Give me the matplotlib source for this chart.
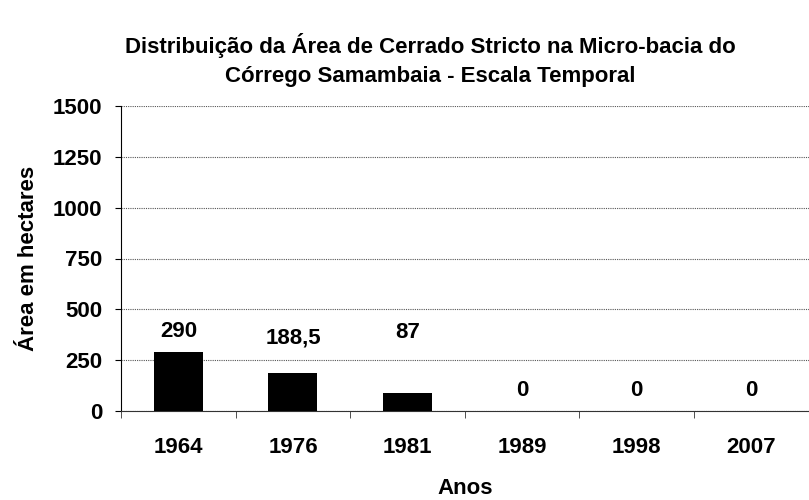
import matplotlib.pyplot as plt
import numpy as np

plt.rcParams['font.family'] = ['Liberation Sans', 'DejaVu Sans']
plt.rcParams['font.weight'] = 'bold'

anos = ['1964', '1976', '1981', '1989', '1998', '2007']
area = [290, 188.5, 87, 0, 0, 0]
rotulos = ['290', '188,5', '87', '0', '0', '0']
# vertical placement of the value labels (data units)
rotulo_y = [393, 359, 388, 103, 103, 103]

FS = 16

fig = plt.figure(figsize=(8.09, 5.0), dpi=100)
ax = fig.add_axes([0.1496, 0.178, 0.850, 0.610])

x = np.arange(len(anos))
ax.bar(x, area, width=0.427, color='black', linewidth=0, zorder=3)

for xi, yi, txt in zip(x, rotulo_y, rotulos):
    ax.text(xi, yi, txt, ha='center', va='center', fontsize=FS, fontweight='bold')

ax.set_xlim(-0.5, len(anos) - 0.5)
ax.set_ylim(0, 1500)
ax.set_yticks(np.arange(0, 1501, 250))
ax.set_yticklabels([str(v) for v in range(0, 1501, 250)], fontsize=FS, fontweight='bold')
ax.set_xticks(x)
ax.set_xticklabels(anos, fontsize=FS, fontweight='bold')
ax.tick_params(axis='x', length=0, pad=19)
ax.set_xticks(np.arange(-0.5, len(anos)), minor=True)
ax.tick_params(axis='x', which='minor', length=5, direction='out', color='#333333')
ax.tick_params(axis='y', length=4.5, direction='out', pad=9)

ax.yaxis.grid(True, linestyle=(0, (1, 1)), color='#555555', linewidth=0.8, zorder=0)
for s in ['top', 'right']:
    ax.spines[s].set_visible(False)
ax.spines['left'].set_color('black')
ax.spines['bottom'].set_color('#333333')

ax.set_ylabel('Área em hectares', fontsize=FS, fontweight='bold', labelpad=10)
ax.set_xlabel('Anos', fontsize=FS, fontweight='bold', labelpad=14)

fig.text(0.532, 0.88, 'Distribuição da Área de Cerrado Stricto na Micro-bacia do\nCórrego Samambaia - Escala Temporal',
         ha='center', va='center', fontsize=FS, fontweight='bold', linespacing=1.45)

fig.savefig('out.png', dpi=100)
